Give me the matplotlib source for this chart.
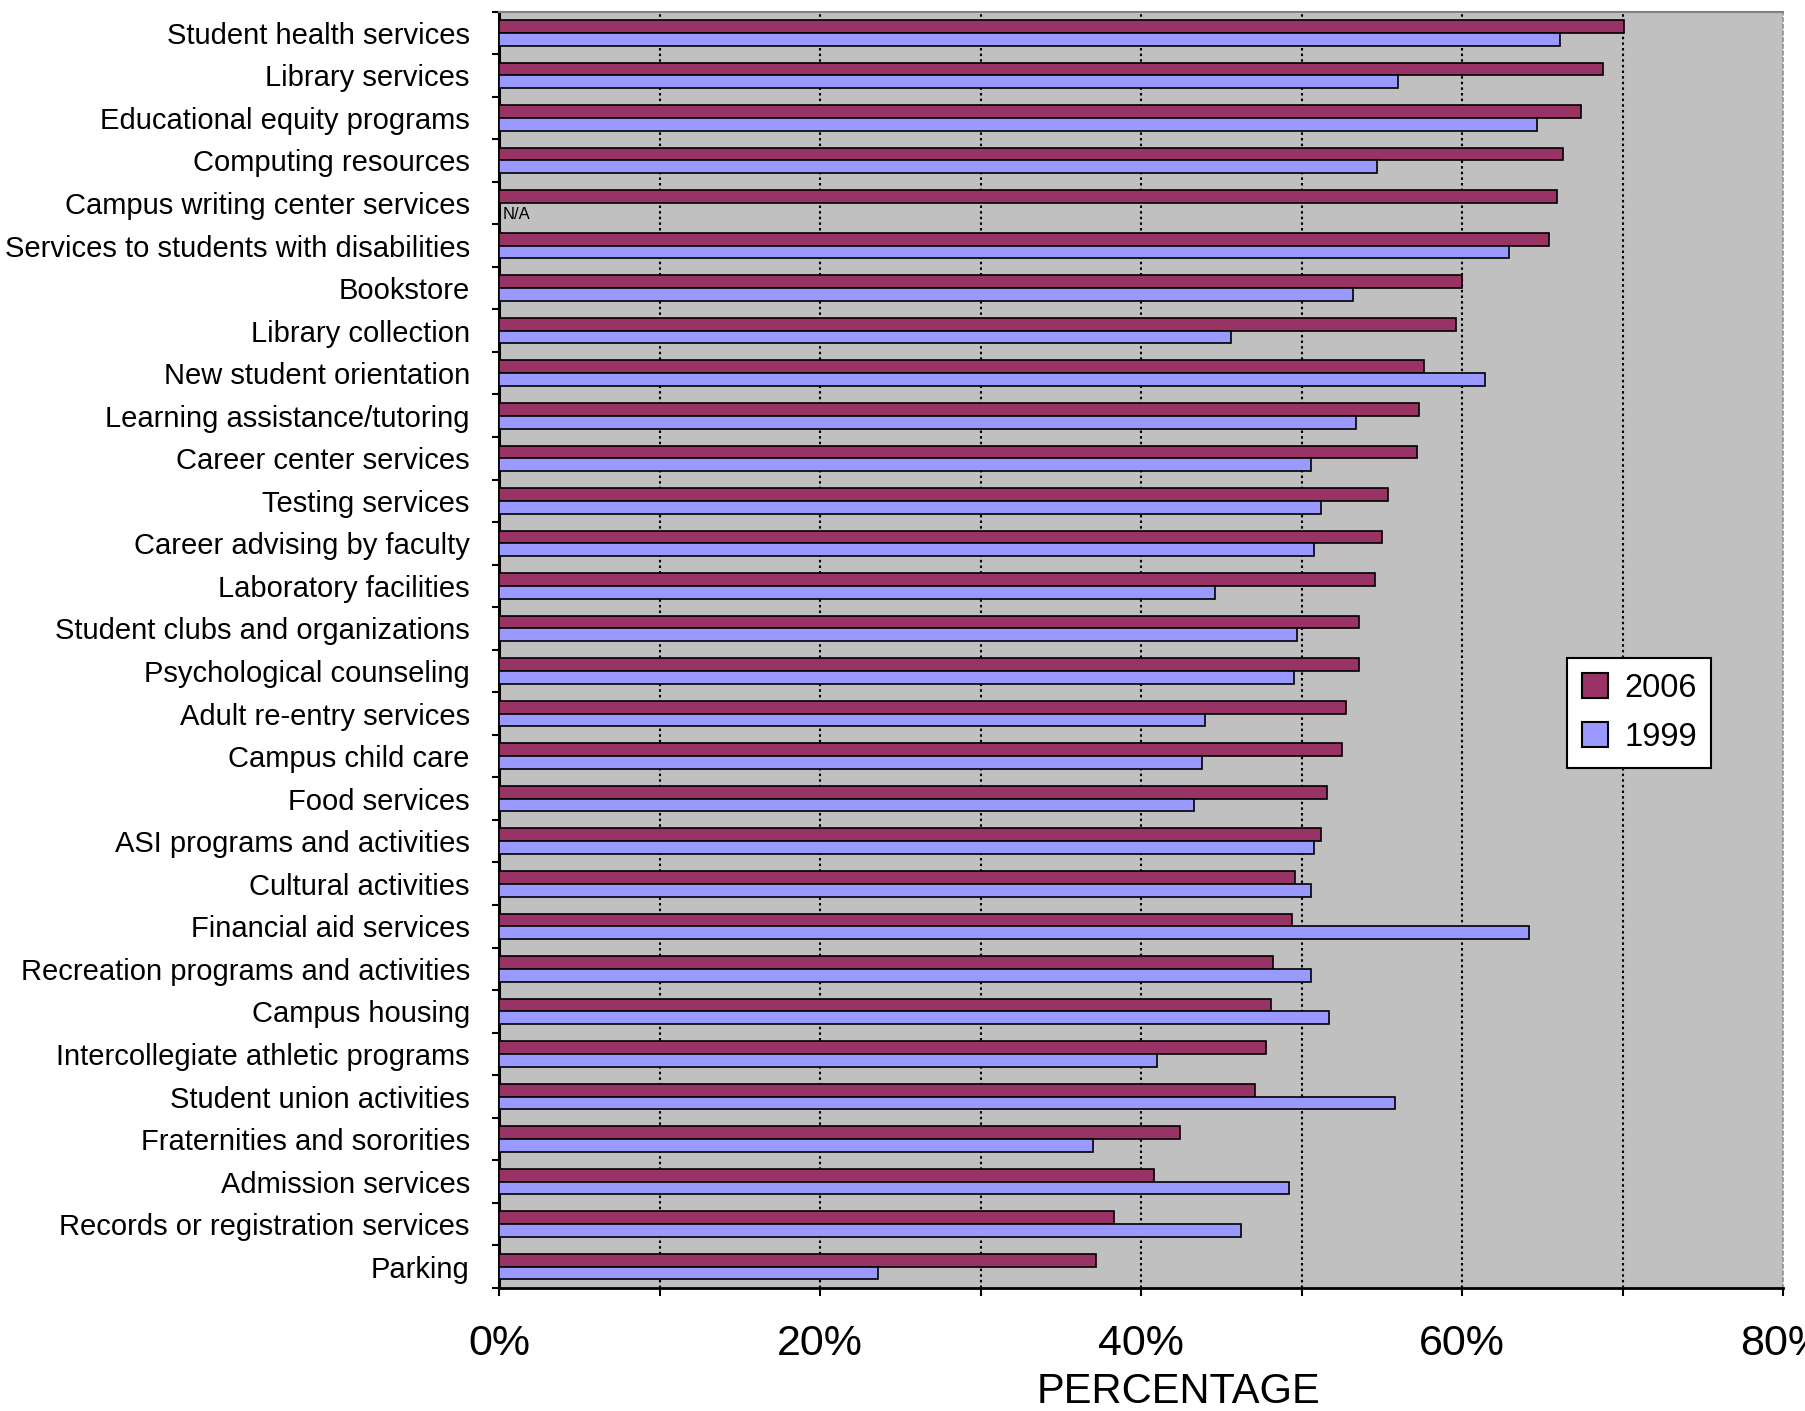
import numpy as np
import matplotlib.pyplot as plt
from matplotlib.patches import Patch
from matplotlib.ticker import FixedLocator, FuncFormatter

plt.rcParams.update({
    'font.family': ['Liberation Sans', 'DejaVu Sans'],
    'figure.facecolor': 'white',
})

services = [
    'Student health services', 'Library services', 'Educational equity programs',
    'Computing resources', 'Campus writing center services',
    'Services to students with disabilities', 'Bookstore', 'Library collection',
    'New student orientation', 'Learning assistance/tutoring', 'Career center services',
    'Testing services', 'Career advising by faculty', 'Laboratory facilities',
    'Student clubs and organizations', 'Psychological counseling',
    'Adult re-entry services', 'Campus child care', 'Food services',
    'ASI programs and activities', 'Cultural activities', 'Financial aid services',
    'Recreation programs and activities', 'Campus housing',
    'Intercollegiate athletic programs', 'Student union activities',
    'Fraternities and sororities', 'Admission services',
    'Records or registration services', 'Parking',
]

pct_2006 = [70.1, 68.8, 67.4, 66.3, 65.9, 65.4, 60.0, 59.6, 57.6, 57.3,
            57.2, 55.4, 55.0, 54.6, 53.6, 53.6, 52.8, 52.5, 51.6, 51.2,
            49.6, 49.4, 48.2, 48.1, 47.8, 47.1, 42.4, 40.8, 38.3, 37.2]

# writing center was not surveyed in 1999
pct_1999 = [66.1, 56.0, 64.7, 54.7, None, 62.9, 53.2, 45.6, 61.4, 53.4,
            50.6, 51.2, 50.8, 44.6, 49.7, 49.5, 44.0, 43.8, 43.3, 50.8,
            50.6, 64.2, 50.6, 51.7, 41.0, 55.8, 37.0, 49.2, 46.2, 23.6]

years = ['2006', '1999']
colors = {'2006': '#993366', '1999': '#9999FF'}

y = np.arange(len(services))
v06 = np.array(pct_2006, dtype=float)
v99 = np.array([np.nan if v is None else v for v in pct_1999], dtype=float)
has99 = ~np.isnan(v99)

fig = plt.figure(figsize=(18.06, 14.11), dpi=100)
ax = fig.add_axes([0.2763, 0.0872, 0.7110, 0.9046])
ax.set_facecolor('#C0C0C0')

bar_h = 0.30
ax.barh(y - bar_h / 2, v06, height=bar_h, color=colors['2006'],
        edgecolor='black', linewidth=1.2, zorder=3)
ax.barh(y[has99] + bar_h / 2, v99[has99], height=bar_h, color=colors['1999'],
        edgecolor='black', linewidth=1.2, zorder=3)

na_idx = services.index('Campus writing center services')
ax.text(0.2, na_idx + 0.28, 'N/A', fontsize=12, va='center', ha='left', zorder=4)

# x axis: labels every 20%, ticks + dotted grid every 10%
ax.set_xlim(0, 80)
ax.xaxis.set_major_locator(FixedLocator([0, 20, 40, 60, 80]))
ax.xaxis.set_minor_locator(FixedLocator([10, 30, 50, 70]))
ax.xaxis.set_major_formatter(FuncFormatter(lambda v, p: f'{v:.0f}%'))
ax.tick_params(axis='x', which='both', direction='out', length=6, width=1.5,
               labelsize=31, pad=20)
for gx in [10, 20, 30, 40, 50, 60, 70]:
    ax.axvline(gx, color='black', linestyle=(0, (1.2, 1.5)), linewidth=1.5, zorder=1)

# y axis: category names centred, ticks at the boundaries
ax.set_ylim(len(services) - 0.5, -0.5)
ax.set_yticks(y)
ax.set_yticklabels(services)
ax.yaxis.set_minor_locator(FixedLocator(np.arange(len(services) + 1) - 0.5))
ax.tick_params(axis='y', which='major', length=0, labelsize=21, pad=21)
ax.tick_params(axis='y', which='minor', direction='out', length=5, width=1.5)

ax.spines['left'].set_linewidth(2.2)
ax.spines['bottom'].set_linewidth(2.0)
ax.spines['top'].set_color('#808080')
ax.spines['top'].set_linewidth(1.5)
ax.spines['right'].set_color('#909090')
ax.spines['right'].set_linestyle((0, (2, 2)))
ax.spines['right'].set_linewidth(1.2)

ax.set_xlabel('PERCENTAGE', fontsize=30)
ax.xaxis.label.set_va('baseline')
ax.xaxis.set_label_coords(0.529, -0.090)

handles = [Patch(facecolor=colors[yr], edgecolor='black', linewidth=1.5) for yr in years]
leg = ax.legend(handles, years, loc='upper left', bbox_to_anchor=(0.819, 0.506),
                fontsize=23.5, frameon=True, fancybox=False, framealpha=1,
                edgecolor='black', handlelength=0.8, handleheight=0.8,
                handletextpad=0.5, labelspacing=0.55, borderpad=0.45)
leg.get_frame().set_linewidth(1.5)

fig.savefig('out.png', dpi=100)
